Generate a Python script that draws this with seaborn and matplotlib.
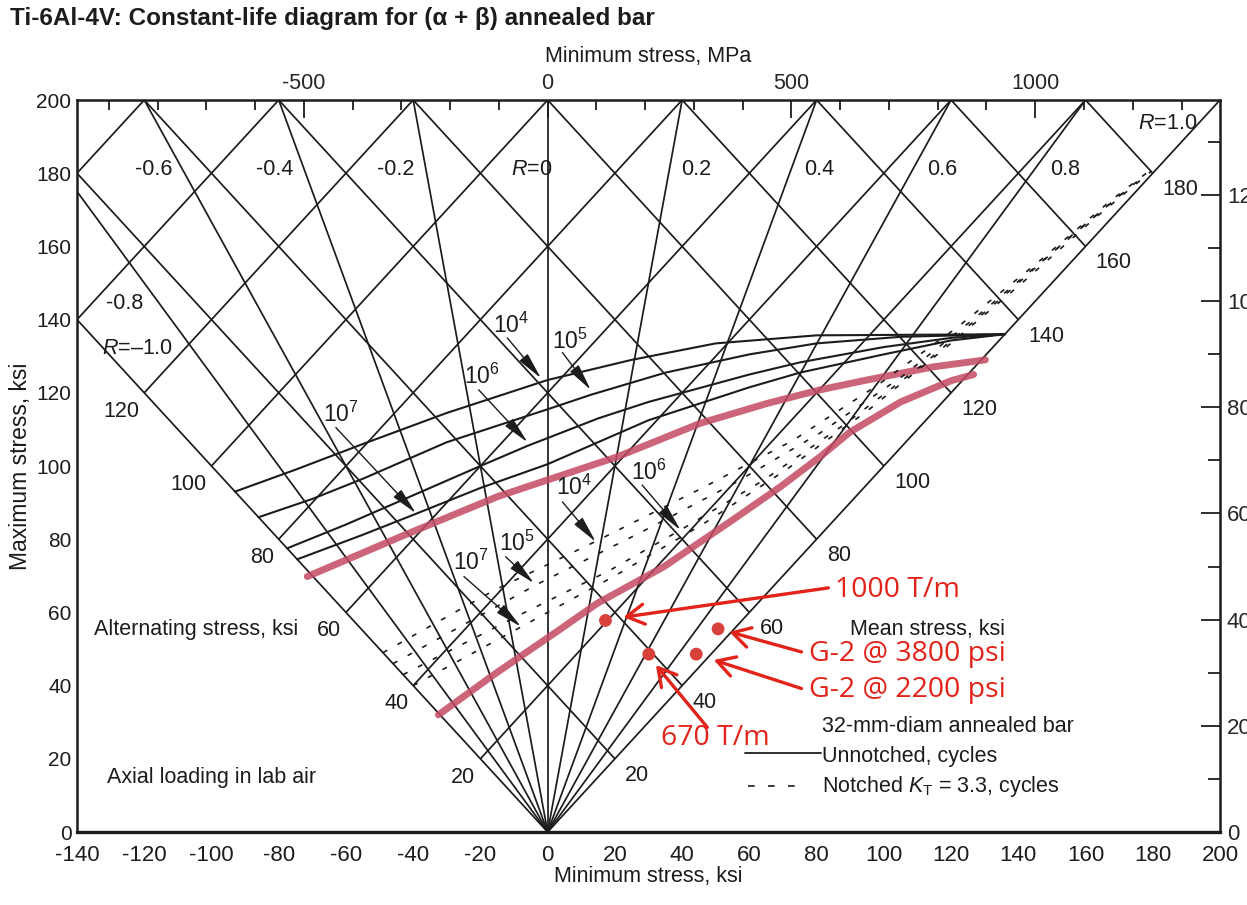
import numpy as np
import pandas as pd
import matplotlib
matplotlib.use("Agg")
import matplotlib.pyplot as plt
import seaborn as sns
from matplotlib import font_manager
from matplotlib.ticker import FixedLocator

# ---------------- data (stresses in ksi) ----------------
R_RATIOS = [-1.0, -0.8, -0.6, -0.4, -0.2, 0.0, 0.2, 0.4, 0.6, 0.8, 1.0]
ALT_GRID = [20, 40, 60, 80, 100, 120, 140, 160]
MEAN_GRID = [20, 40, 60, 80, 100, 120, 140, 160, 180]
ALT_TICK_LABELS = [20, 40, 60, 80, 100, 120]
MEAN_TICK_LABELS = [20, 40, 60, 80, 100, 120, 140, 160, 180]

# unnotched constant-life curves: minimum stress / maximum stress
UN_1E4_MIN = [-93, -75, -55, -30, 0, 25, 50, 80, 136]
UN_1E4_MAX = [93, 99, 106, 114.5, 123.5, 129, 133.5, 135.7, 136]
UN_1E5_MIN = [-86, -70, -55, -30, 0, 13, 35, 60, 80, 105, 136]
UN_1E5_MAX = [86, 91, 96.5, 106.5, 115.5, 119.5, 125.5, 130.5, 133.5, 135.3, 136]
UN_1E6_MIN = [-77.5, -60, -40, -20, -6, 15, 30, 60, 75, 100, 120, 136]
UN_1E6_MAX = [77.5, 84, 92, 100, 105.5, 113, 117.5, 125, 128.3, 132.5, 135, 136]
UN_1E7_MIN = [-74.5, -55, -39, -20, 0, 30, 60, 75, 100, 120, 136]
UN_1E7_MAX = [74.5, 81.2, 87, 94, 100.5, 112.5, 121.5, 125.5, 130.5, 134.3, 136]

# notched (KT = 3.3) constant-life curves: mean stress / alternating stress
NT_1E4_MEAN = [0, 25, 47, 70, 90, 110, 130, 150, 170, 180]
NT_1E4_ALT = [49, 41, 32.5, 24, 17, 12, 8, 5, 2.5, 0.8]
NT_1E5_MEAN = [0, 32, 55, 75, 95, 115, 135, 155, 175]
NT_1E5_ALT = [46, 35.5, 27, 20, 14, 9.5, 6.5, 4, 1.5]
NT_1E6_MEAN = [0, 25, 45, 61, 80, 100, 120, 140, 160, 178]
NT_1E6_ALT = [43, 34, 26.5, 21.5, 16, 11.5, 8, 5.5, 3.5, 1]
NT_1E7_MEAN = [0, 24, 45, 65, 85, 105, 125, 145, 165, 180]
NT_1E7_ALT = [40, 32, 25, 19, 14, 10, 7, 4.5, 2.5, 0.5]

# hand-drawn design curves: minimum stress / maximum stress
RED_UPPER_MIN = [-71.5, -43.7, -15, 0, 20.7, 45.5, 65.3, 81, 95, 114.8, 130.2]
RED_UPPER_MAX = [69.8, 80.7, 91.6, 96.2, 102.5, 111.7, 117.1, 120.8, 123.5, 127.1, 129]
RED_LOWER_MIN = [-32.5, -16, 3.9, 14.8, 34.6, 55.4, 69.2, 81, 90, 105, 120, 126.7]
RED_LOWER_MAX = [32, 43, 55.5, 62.5, 72.5, 85.5, 94.3, 102.5, 109.3, 117.5, 123.3, 125]

# test points
POINT_NAMES = ["1000 T/m", "670 T/m", "G-2 @ 3800 psi", "G-2 @ 2200 psi"]
POINT_MIN = [17.2, 30.1, 50.7, 44.2]
POINT_MAX = [57.8, 48.6, 55.5, 48.6]

KSI_TO_MPA = 6.894757

# ---------------- style ----------------
sns.set_theme(style="white")
names = {f.name for f in font_manager.fontManager.ttflist}
BASE = "Liberation Sans" if "Liberation Sans" in names else "DejaVu Sans"
NARROW = "Liberation Sans Narrow" if "Liberation Sans Narrow" in names else BASE
RED_FONT = "Open Sans" if "Open Sans" in names else BASE
plt.rcParams["font.family"] = [BASE, "DejaVu Sans"]
plt.rcParams["axes.unicode_minus"] = False
plt.rcParams["mathtext.fontset"] = "custom"
plt.rcParams["mathtext.rm"] = BASE
plt.rcParams["mathtext.it"] = BASE + ":italic"
plt.rcParams["mathtext.bf"] = BASE + ":bold"

INK = "#1c1c1c"
RED = "#e2231a"
HILITE = "#c44a63"
FS = 15.5

fig = plt.figure(figsize=(12.47, 9.05), dpi=100)
ax = fig.add_axes([77 / 1247, 73 / 905, 1143 / 1247, 732 / 905])
ax.set_xlim(-140, 200)
ax.set_ylim(0, 200)
XMIN, XMAX, YMAX = -140, 200, 200

grid_kw = dict(color=INK, lw=1.25, solid_capstyle="butt", zorder=2)

# constant stress-ratio lines from the origin
for r in R_RATIOS:
    if r * YMAX >= XMIN:
        end = (r * YMAX, YMAX)
    else:
        end = (XMIN, XMIN / r)
    ax.plot([0, end[0]], [0, end[1]], **grid_kw)

# constant alternating-stress lines (slope +1)
for a in ALT_GRID:
    x0 = max(-a, XMIN)
    ax.plot([x0, YMAX - 2 * a], [x0 + 2 * a, YMAX], **grid_kw)

# constant mean-stress lines (slope -1)
for m in MEAN_GRID:
    x1 = 2 * m - YMAX
    if x1 < XMIN:
        x1 = XMIN
    ax.plot([m, x1], [m, 2 * m - x1], **grid_kw)

# hand-drawn highlight curves
for xs, ys in [(RED_UPPER_MIN, RED_UPPER_MAX), (RED_LOWER_MIN, RED_LOWER_MAX)]:
    sns.lineplot(x=xs, y=ys, ax=ax, sort=False, estimator=None,
                 color=HILITE, lw=5.0, alpha=0.85, zorder=3)

# unnotched curves
for xs, ys in [(UN_1E4_MIN, UN_1E4_MAX), (UN_1E5_MIN, UN_1E5_MAX),
               (UN_1E6_MIN, UN_1E6_MAX), (UN_1E7_MIN, UN_1E7_MAX)]:
    sns.lineplot(x=xs, y=ys, ax=ax, sort=False, estimator=None,
                 color=INK, lw=1.5, zorder=4)

# notched curves, converted from mean/alternating to min/max stress
for ms, alts in [(NT_1E4_MEAN, NT_1E4_ALT), (NT_1E5_MEAN, NT_1E5_ALT),
                 (NT_1E6_MEAN, NT_1E6_ALT), (NT_1E7_MEAN, NT_1E7_ALT)]:
    df = pd.DataFrame({"mean": ms, "alt": alts})
    df["smin"] = df["mean"] - df["alt"]
    df["smax"] = df["mean"] + df["alt"]
    sns.lineplot(data=df, x="smin", y="smax", ax=ax, sort=False, estimator=None,
                 color=INK, lw=1.2, zorder=4, linestyle=(0, (3, 7)))

# ---------------- in-diagram labels ----------------
lab_kw = dict(fontsize=FS, color=INK, zorder=6)
for r in R_RATIOS:
    if r in (-1.0, -0.8, 1.0):
        continue
    if r < 0:
        ax.text(180 * r - 3.5, 181, f"{r:.1f}", ha="right", va="center", **lab_kw)
    elif r == 0:
        ax.text(1.5, 181, "$R$=0", ha="right", va="center", **lab_kw)
    else:
        ax.text(180 * r + 3 + 3 * r, 181, f"{r:.1f}", ha="left", va="center", **lab_kw)
ax.text(-131.5, 144.5, "-0.8", ha="left", va="center", **lab_kw)
ax.text(-132.5, 132, "$R$=\u20131.0", ha="left", va="center", **lab_kw)
ax.text(175.5, 193.5, "$R$=1.0", ha="left", va="center", **lab_kw)

for a in ALT_TICK_LABELS:
    ax.text(-a - 1.5, a - 5, f"{a}", ha="right", va="center", **lab_kw)
for m in MEAN_TICK_LABELS:
    ax.text(m + 3, m - 4.5, f"{m}", ha="left", va="center", **lab_kw)

# cycle labels with pointer arrows: (text, label xy, arrow start, arrow tip)
CYCLE_LABELS = [
    ("$10^4$", (-11, 138.5), (-12, 135), (-2, 124)),
    ("$10^5$", (6.5, 134), (4.4, 131), (12.8, 120.8)),
    ("$10^6$", (-19.5, 124.5), (-20.5, 120.8), (-6, 106.5)),
    ("$10^7$", (-61.5, 114), (-63, 110.5), (-39.2, 87.1)),
    ("$10^4$", (7.8, 94.3), (4.4, 90.2), (14.3, 79.3)),
    ("$10^6$", (30.1, 98.4), (28.1, 94.8), (39.5, 82.5)),
    ("$10^5$", (-9, 78.9), (-12.5, 75.2), (-4.1, 68)),
    ("$10^7$", (-22.9, 73.8), (-24.9, 69.8), (-8, 56.1)),
]
for txt, pos, start, tip in CYCLE_LABELS:
    ax.text(pos[0], pos[1], txt, ha="center", va="center", fontsize=16.5, color=INK, zorder=6)
    ax.annotate("", xy=tip, xytext=start, zorder=6,
                arrowprops=dict(arrowstyle="-|>,head_length=1.1,head_width=0.22",
                                mutation_scale=15, color=INK, lw=1.0,
                                shrinkA=0, shrinkB=0))

ax.text(90, 55.3, "Mean stress, ksi", ha="left", va="center", **lab_kw)
ax.text(-135, 55.3, "Alternating stress, ksi", ha="left", va="center", **lab_kw)
ax.text(-131, 14.8, "Axial loading in lab air", ha="left", va="center", **lab_kw)
ax.text(81.7, 28.7, "32-mm-diam annealed bar", ha="left", va="center", **lab_kw)
ax.text(81.7, 20.5, "Unnotched, cycles", ha="left", va="center", **lab_kw)
ax.text(81.7, 12.4, "Notched $K_\\mathrm{T}$ = 3.3, cycles", ha="left", va="center", **lab_kw)
ax.plot([58.8, 81.3], [21.6, 21.6], color=INK, lw=1.3, zorder=6)
ax.plot([59.5, 76], [12.6, 12.6], color=INK, lw=1.2, linestyle=(0, (4, 8)), zorder=6)

# ---------------- test points and callouts ----------------
pts = pd.DataFrame({"name": POINT_NAMES, "smin": POINT_MIN, "smax": POINT_MAX})
sns.scatterplot(data=pts, x="smin", y="smax", ax=ax, color="#d8403a", s=85,
                edgecolor="none", zorder=7, legend=False)

CALLOUTS = [
    ("1000 T/m", (85.6, 66.2), (83.5, 66.7), (22.5, 58.7)),
    ("G-2 @ 3800 psi", (77.6, 48.6), (75.5, 49.2), (54.0, 54.7)),
    ("G-2 @ 2200 psi", (77.6, 38.9), (75.5, 39.2), (49.4, 47.0)),
    ("670 T/m", (33.6, 25.8), (47.5, 28.6), (32.2, 45.6)),
]
for txt, tpos, tail, tip in CALLOUTS:
    ax.text(tpos[0], tpos[1], txt, ha="left", va="center", fontsize=20.5,
            color=RED, family=RED_FONT, zorder=8)
    ax.annotate("", xy=tip, xytext=tail, zorder=8,
                arrowprops=dict(arrowstyle="->,head_length=0.7,head_width=0.4",
                                mutation_scale=18, color=RED, lw=2.4,
                                shrinkA=0, shrinkB=0))

# ---------------- axes, ticks ----------------
for side in ["left", "right", "top", "bottom"]:
    ax.spines[side].set_visible(True)
    ax.spines[side].set_color(INK)
    ax.spines[side].set_linewidth(1.8)
ax.spines["bottom"].set_linewidth(2.4)

ax.xaxis.set_major_locator(FixedLocator(np.arange(-140, 201, 20)))
ax.yaxis.set_major_locator(FixedLocator(np.arange(0, 201, 20)))
ax.tick_params(axis="both", which="major", direction="in", length=13, width=1.3,
               color=INK, labelsize=15, labelcolor=INK)
ax.tick_params(axis="x", pad=9, labelsize=16)
ax.tick_params(axis="y", pad=4)
for lab in ax.get_xticklabels():
    lab.set_family(NARROW)
ax.set_xlabel("Minimum stress, ksi", fontsize=FS, family=NARROW, labelpad=0, color=INK)
ax.set_ylabel("Maximum stress, ksi", fontsize=16.5, labelpad=3, color=INK)

top = ax.secondary_xaxis("top", functions=(lambda v: v * KSI_TO_MPA,
                                            lambda v: v / KSI_TO_MPA))
top.xaxis.set_major_locator(FixedLocator([-500, 0, 500, 1000]))
top.xaxis.set_minor_locator(FixedLocator(np.arange(-900, 1301, 100)))
top.tick_params(which="major", direction="in", length=13, width=1.3, color=INK,
                labelsize=FS, pad=4)
top.tick_params(which="minor", direction="in", length=7, width=1.3, color=INK)
top.spines["top"].set_visible(False)
top.set_xlabel("Minimum stress, MPa", fontsize=FS, labelpad=8, color=INK)

right = ax.secondary_yaxis("right", functions=(lambda v: v * KSI_TO_MPA,
                                                lambda v: v / KSI_TO_MPA))
right.yaxis.set_major_locator(FixedLocator(np.arange(0, 1201, 200)))
right.yaxis.set_minor_locator(FixedLocator(np.arange(100, 1301, 200)))
right.tick_params(which="major", direction="in", length=14, width=1.3, color=INK,
                  labelsize=16, pad=5)
right.tick_params(which="minor", direction="in", length=9, width=1.3, color=INK)
right.spines["right"].set_visible(False)

fig.text(10 / 1247, 1 - 18 / 905, "Ti-6Al-4V: Constant-life diagram for (\u03b1 + \u03b2) annealed bar",
         ha="left", va="center", fontsize=17.5, fontweight="bold", color=INK)

fig.savefig("out.png", dpi=100)
